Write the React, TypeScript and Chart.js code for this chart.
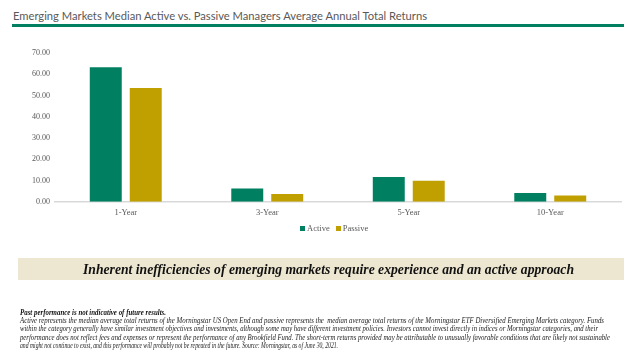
import React, { useEffect, useRef } from "react";
import { Chart, registerables } from "chart.js";

Chart.register(...registerables);

const categories = ["1-Year", "3-Year", "5-Year", "10-Year"];
const activeValues = [63.3, 6.2, 11.7, 4.1];
const passiveValues = [53.5, 3.7, 9.9, 3.0];
const seriesNames = ["Active", "Passive"];
const yTicks = [0, 10, 20, 30, 40, 50, 60, 70];

const TITLE = "Emerging Markets Median Active vs. Passive Managers Average Annual Total Returns";
const BANNER = "Inherent inefficiencies of emerging markets require experience and an active approach";
const NOTE_HEAD = "Past performance is not indicative of future results.";
const NOTE_LINES = [
  "Active represents the median average total returns of the Morningstar US Open End and passive represents the  median average total returns of the Morningstar ETF Diversified Emerging Markets category. Funds",
  "within the category generally have similar investment objectives and investments, although some may have different investment policies. Investors cannot invest directly in indices or Morningstar categories, and their",
  "performance does not reflect fees and expenses or represent the performance of any Brookfield Fund. The short-term returns provided may be attributable to unusually favorable conditions that are likely not sustainable",
  "and might not continue to exist, and this performance will probably not be repeated in the future. Source: Morningstar, as of June 30, 2021.",
];
const NOTE_WIDTHS = [584, 578, 590, 318];

const GREEN = "#008061";
const GOLD = "#bfa000";
const COLORS = [GREEN, GOLD];
const SERIF = "'Liberation Serif', 'Times New Roman', serif";

function BarChart() {
  const ref = useRef<HTMLCanvasElement | null>(null);
  useEffect(() => {
    if (!ref.current) return;
    const chart = new Chart(ref.current, {
      type: "bar",
      data: {
        labels: categories,
        datasets: [
          { label: seriesNames[0], data: activeValues, backgroundColor: COLORS[0], categoryPercentage: 0.565, barPercentage: 0.8 },
          { label: seriesNames[1], data: passiveValues, backgroundColor: COLORS[1], categoryPercentage: 0.565, barPercentage: 0.8 },
        ],
      },
      options: {
        responsive: true,
        maintainAspectRatio: false,
        animation: false,
        layout: { padding: { top: 18, right: 3, left: 0, bottom: 0 } },
        scales: {
          y: {
            min: yTicks[0],
            max: yTicks[yTicks.length - 1],
            afterBuildTicks: (s: any) => {
              s.ticks = yTicks.map((v) => ({ value: v }));
            },
            afterFit: (s: any) => {
              s.width = 55;
            },
            ticks: {
              callback: (v: any) => Number(v).toFixed(2),
              font: { family: SERIF, size: 8 },
              color: "#595959",
              padding: 5,
            },
            grid: { display: false, drawTicks: false },
            border: { display: false },
          },
          x: {
            grid: { display: false, drawTicks: false },
            border: { display: true, color: "#d9d9d9", width: 1.5 },
            ticks: { font: { family: SERIF, size: 8.5 }, color: "#595959", padding: 6 },
          },
        },
        plugins: {
          tooltip: { enabled: false },
          legend: { display: false },
        },
      },
    });
    return () => chart.destroy();
  }, []);
  return <canvas ref={ref} />;
}

export default function App() {
  return (
    <div style={{ position: "absolute", left: 0, top: 0, width: 624, height: 355, background: "#fff", overflow: "hidden" }}>
      <div style={{ position: "absolute", left: 13, top: 9, fontFamily: "Lato, 'Open Sans', sans-serif", fontSize: 11.2, color: "#595959", whiteSpace: "nowrap", lineHeight: "14px" }}>
        {TITLE}
      </div>
      <div style={{ position: "absolute", left: 12, top: 24, width: 612, height: 3, background: GREEN }} />
      <div style={{ position: "absolute", left: 0, top: 35, width: 624, height: 189 }}>
        <BarChart />
      </div>
      <div style={{ position: "absolute", left: 300, top: 222, height: 12, display: "flex", alignItems: "center", fontFamily: SERIF, fontSize: 8.5, color: "#595959", whiteSpace: "nowrap" }}>
        {seriesNames.map((n, i) => (
          <div key={n} style={{ display: "flex", alignItems: "center", marginRight: 6 }}>
            <span style={{ display: "inline-block", width: 5, height: 5, background: COLORS[i], marginRight: 2 }} />
            <span>{n}</span>
          </div>
        ))}
      </div>
      <div style={{ position: "absolute", left: 18, top: 258, width: 606, height: 22, background: "#ede7d1" }} />
      <svg width={624} height={355} style={{ position: "absolute", left: 0, top: 0 }}>
        <text x={83} y={274} textLength={491} lengthAdjust="spacingAndGlyphs" fontFamily={SERIF} fontWeight="bold" fontStyle="italic" fontSize={14} fill="#111">
          {BANNER}
        </text>
        <text x={20} y={314.5} textLength={146} lengthAdjust="spacingAndGlyphs" fontFamily={SERIF} fontWeight="bold" fontStyle="italic" fontSize={7.5} fill="#111">
          {NOTE_HEAD}
        </text>
        {NOTE_LINES.map((l, i) => (
          <text key={i} x={20} y={323 + i * 8.4} textLength={NOTE_WIDTHS[i]} lengthAdjust="spacingAndGlyphs" fontFamily={SERIF} fontStyle="italic" fontSize={7.5} fill="#222" xmlSpace="preserve">
            {l}
          </text>
        ))}
      </svg>
    </div>
  );
}
